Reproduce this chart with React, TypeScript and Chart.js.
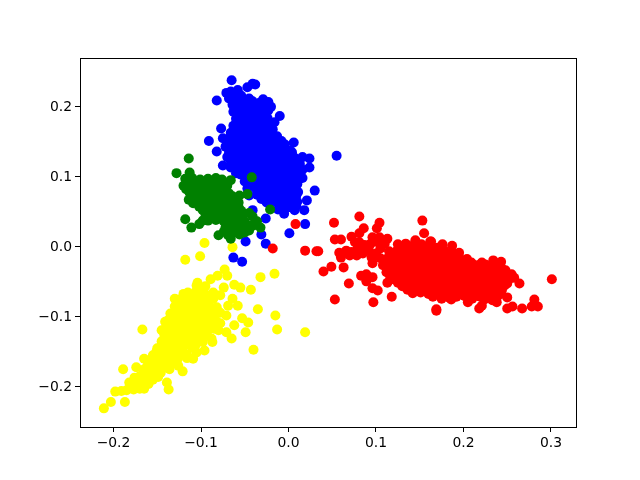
import React, { useEffect, useRef } from "react";
import { Chart, registerables } from "chart.js";

Chart.register(...registerables);

const xTickValues = [-0.2, -0.1, 0, 0.1, 0.2, 0.3];
const yTickValues = [-0.2, -0.1, 0, 0.1, 0.2];

const bluePoints = [
  [-0.065,0.238],[-0.038,0.232],[-0.047,0.228],[-0.041,0.233],[-0.082,0.209],[-0.071,0.220],[-0.058,0.224],[-0.029,0.211],[-0.023,0.207],[-0.023,0.195],[-0.010,0.187],[-0.091,0.151],[0.006,0.149],[-0.082,0.136],[-0.077,0.169],[-0.075,0.155],[-0.018,0.168],[-0.008,0.151],[-0.075,0.116],[0.016,0.128],[0.024,0.126],[0.024,0.113],[0.055,0.130],
  [0.030,0.080],[0.021,0.066],[0.018,0.052],[0.019,0.032],[0.001,0.019],[-0.026,0.004],[-0.031,0.017],[-0.049,0.007],[-0.063,-0.016],[-0.053,-0.022],[-0.026,0.040],[-0.041,0.052],[-0.005,0.047],[0.007,0.052],[0.016,0.098],
  [-0.066,0.222],[-0.058,0.221],[-0.068,0.212],[-0.060,0.213],[-0.052,0.211],[-0.045,0.212],
  [-0.064,0.203],[-0.055,0.204],[-0.046,0.202],[-0.037,0.203],[-0.029,0.202],
  [-0.063,0.193],[-0.054,0.194],[-0.045,0.192],[-0.036,0.193],[-0.027,0.194],
  [-0.060,0.183],[-0.051,0.184],[-0.042,0.182],[-0.033,0.183],[-0.024,0.184],
  [-0.063,0.173],[-0.054,0.174],[-0.045,0.172],[-0.036,0.173],[-0.027,0.172],
  [-0.066,0.163],[-0.057,0.164],[-0.048,0.162],[-0.039,0.163],[-0.030,0.164],[-0.021,0.162],
  [-0.070,0.153],[-0.061,0.154],[-0.052,0.152],[-0.043,0.153],[-0.034,0.154],[-0.025,0.152],[-0.016,0.153],
  [-0.072,0.143],[-0.063,0.144],[-0.054,0.142],[-0.045,0.143],[-0.036,0.144],[-0.027,0.142],[-0.018,0.143],[-0.009,0.144],
  [-0.068,0.133],[-0.059,0.134],[-0.050,0.132],[-0.041,0.133],[-0.032,0.134],[-0.023,0.132],[-0.014,0.133],[-0.005,0.134],
  [-0.066,0.123],[-0.057,0.124],[-0.048,0.122],[-0.039,0.123],[-0.030,0.124],[-0.021,0.122],[-0.012,0.123],[-0.003,0.124],[0.004,0.122],
  [-0.060,0.113],[-0.051,0.114],[-0.042,0.112],[-0.033,0.113],[-0.024,0.114],[-0.015,0.112],[-0.006,0.113],[0.003,0.114],[0.010,0.112],
  [-0.055,0.103],[-0.046,0.104],[-0.037,0.102],[-0.028,0.103],[-0.019,0.104],[-0.010,0.102],[-0.001,0.103],[0.008,0.104],
  [-0.050,0.093],[-0.041,0.094],[-0.032,0.092],[-0.023,0.093],[-0.014,0.094],[-0.005,0.092],[0.004,0.093],[0.011,0.094],
  [-0.047,0.083],[-0.038,0.084],[-0.029,0.082],[-0.020,0.083],[-0.011,0.084],[-0.002,0.082],[0.007,0.083],
  [-0.045,0.073],[-0.036,0.074],[-0.027,0.072],[-0.018,0.073],[-0.009,0.074],[0.000,0.072],[0.009,0.073],
  [-0.025,0.063],[-0.016,0.064],[-0.007,0.062],[0.002,0.063],[0.010,0.064],
  [-0.012,0.053],[-0.004,0.054],[0.003,0.056],
  [-0.062,0.217],[-0.054,0.216],[-0.059,0.208],[-0.050,0.207],[-0.041,0.208],[-0.033,0.206],[-0.059,0.198],[-0.050,0.199],[-0.041,0.197],[-0.032,0.198],[-0.057,0.188],[-0.047,0.187],[-0.038,0.188],[-0.029,0.189],[-0.058,0.178],[-0.049,0.179],[-0.040,0.177],[-0.031,0.178],[-0.023,0.176],[-0.061,0.168],[-0.052,0.169],[-0.043,0.167],[-0.034,0.168],[-0.025,0.167],[-0.066,0.158],[-0.057,0.159],[-0.048,0.157],[-0.039,0.158],[-0.030,0.159],[-0.021,0.157],[-0.013,0.158],[-0.068,0.148],[-0.059,0.149],[-0.050,0.147],[-0.041,0.148],[-0.032,0.149],[-0.023,0.147],[-0.014,0.148],[-0.004,0.146],[-0.068,0.138],[-0.060,0.139],[-0.050,0.137],[-0.041,0.138],[-0.032,0.139],[-0.023,0.137],[-0.014,0.138],[-0.005,0.139],[0.002,0.137],[-0.066,0.128],[-0.053,0.129],[-0.044,0.127],[-0.035,0.128],[-0.026,0.129],[-0.017,0.127],[-0.008,0.128],[0.001,0.129],[0.007,0.127],[-0.057,0.118],[-0.047,0.117],[-0.038,0.118],[-0.029,0.119],[-0.020,0.117],[-0.011,0.118],[-0.002,0.119],[0.007,0.117],[0.013,0.118],[-0.052,0.108],[-0.042,0.107],[-0.033,0.108],[-0.024,0.109],[-0.015,0.107],[-0.006,0.108],[0.003,0.109],[0.012,0.107],[-0.046,0.098],[-0.037,0.097],[-0.028,0.098],[-0.019,0.099],[-0.010,0.097],[-0.001,0.098],[0.008,0.099],[-0.044,0.088],[-0.034,0.087],[-0.025,0.088],[-0.016,0.089],[-0.007,0.087],[0.002,0.088],[0.010,0.089],[-0.033,0.078],[-0.024,0.077],[-0.015,0.078],[-0.006,0.079],[0.003,0.077],[0.011,0.078],[-0.031,0.068],[-0.021,0.067],[-0.012,0.068],[-0.003,0.069],[0.006,0.067],[-0.008,0.058],[0.001,0.057],[0.009,0.058],
  [-0.070,0.128],[-0.066,0.113],[-0.060,0.105],[0.004,0.135],[0.016,0.110],[-0.020,0.200],[-0.016,0.178],
];

const redPoints = [
  [0.081,0.043],[0.052,0.034],[0.153,0.037],[0.104,0.034],[0.053,0.010],[0.060,0.010],[0.032,-0.007],[0.040,-0.036],[0.049,-0.029],[0.063,-0.030],[0.069,-0.053],[0.053,-0.076],[0.097,-0.080],[0.118,-0.072],[0.083,-0.042],[0.089,-0.040],[0.096,-0.044],[0.089,-0.050],[0.096,-0.060],[0.102,-0.063],[0.113,-0.052],[0.169,-0.092],[0.155,0.019],[0.162,0.007],[0.145,0.009],[0.113,0.011],[0.072,0.014],[0.086,0.026],[0.101,0.026],[0.081,0.019],[0.096,0.013],[0.104,0.013],[0.058,-0.009],[0.060,-0.016],[0.070,-0.013],[0.079,-0.003],[0.081,0.006],[0.096,-0.024],[0.095,-0.016],[0.078,-0.013],[0.102,0.006],[0.087,0.002],[0.066,-0.006],[0.092,-0.006],[0.105,-0.003],
  [0.301,-0.047],[0.281,-0.076],[0.278,-0.086],[0.285,-0.086],[0.267,-0.089],[0.256,-0.086],[0.250,-0.089],[0.218,-0.089],[0.221,-0.085],[0.169,-0.090],[0.234,-0.020],[0.243,-0.022],[0.264,-0.053],[0.187,0.001],[0.176,0.003],[0.163,0.007],[0.250,-0.073],[0.238,-0.080],[0.205,-0.080],[0.198,-0.020],[0.221,-0.023],[0.209,-0.024],[0.008,0.032],[-0.018,-0.003],[0.019,-0.006],[0.034,-0.007],
  [0.125,0.003],[0.134,0.004],[0.143,0.002],[0.152,0.003],[0.160,0.001],[0.170,-0.002],
  [0.115,-0.007],[0.124,-0.006],[0.133,-0.008],[0.142,-0.007],[0.151,-0.006],[0.160,-0.008],[0.169,-0.007],[0.178,-0.006],[0.187,-0.008],[0.195,-0.009],
  [0.105,-0.017],[0.114,-0.016],[0.123,-0.018],[0.132,-0.017],[0.141,-0.016],[0.150,-0.018],[0.159,-0.017],[0.168,-0.016],[0.177,-0.018],[0.186,-0.017],[0.195,-0.016],[0.204,-0.018],
  [0.108,-0.027],[0.117,-0.026],[0.126,-0.028],[0.135,-0.027],[0.144,-0.026],[0.153,-0.028],[0.162,-0.027],[0.171,-0.026],[0.180,-0.028],[0.189,-0.027],[0.198,-0.026],[0.207,-0.028],[0.216,-0.027],[0.225,-0.026],[0.234,-0.028],[0.243,-0.030],
  [0.112,-0.037],[0.121,-0.036],[0.130,-0.038],[0.139,-0.037],[0.148,-0.036],[0.157,-0.038],[0.166,-0.037],[0.175,-0.036],[0.184,-0.038],[0.193,-0.037],[0.202,-0.036],[0.211,-0.038],[0.220,-0.037],[0.229,-0.036],[0.238,-0.038],[0.247,-0.037],[0.255,-0.040],
  [0.118,-0.047],[0.127,-0.046],[0.136,-0.048],[0.145,-0.047],[0.154,-0.046],[0.163,-0.048],[0.172,-0.047],[0.181,-0.046],[0.190,-0.048],[0.199,-0.047],[0.208,-0.046],[0.217,-0.048],[0.226,-0.047],[0.235,-0.046],[0.244,-0.048],[0.252,-0.047],
  [0.130,-0.057],[0.139,-0.056],[0.148,-0.058],[0.157,-0.057],[0.166,-0.056],[0.175,-0.058],[0.184,-0.057],[0.193,-0.056],[0.202,-0.058],[0.211,-0.057],[0.220,-0.056],[0.229,-0.058],[0.238,-0.057],[0.247,-0.056],
  [0.142,-0.067],[0.151,-0.066],[0.160,-0.068],[0.169,-0.067],[0.178,-0.066],[0.187,-0.068],[0.196,-0.067],[0.205,-0.066],[0.214,-0.068],[0.223,-0.067],[0.232,-0.066],[0.243,-0.068],
  [0.175,-0.075],[0.186,-0.076],[0.210,-0.075],[0.224,-0.076],[0.233,-0.077],
  [0.129,-0.002],[0.138,-0.003],[0.147,-0.001],[0.156,-0.003],[0.165,-0.002],[0.120,-0.012],[0.129,-0.013],[0.138,-0.011],[0.147,-0.012],[0.156,-0.013],[0.165,-0.011],[0.174,-0.012],[0.183,-0.013],[0.192,-0.012],[0.110,-0.022],[0.119,-0.021],[0.128,-0.023],[0.137,-0.022],[0.146,-0.021],[0.155,-0.023],[0.164,-0.022],[0.173,-0.021],[0.182,-0.023],[0.191,-0.022],[0.200,-0.021],[0.209,-0.023],[0.218,-0.030],[0.113,-0.032],[0.122,-0.031],[0.131,-0.033],[0.140,-0.032],[0.149,-0.031],[0.158,-0.033],[0.167,-0.032],[0.176,-0.031],[0.185,-0.033],[0.194,-0.032],[0.203,-0.031],[0.212,-0.033],[0.221,-0.032],[0.230,-0.031],[0.239,-0.033],[0.248,-0.034],[0.116,-0.042],[0.125,-0.041],[0.134,-0.043],[0.143,-0.042],[0.152,-0.041],[0.161,-0.043],[0.170,-0.042],[0.179,-0.041],[0.188,-0.043],[0.197,-0.042],[0.206,-0.041],[0.215,-0.043],[0.224,-0.042],[0.233,-0.041],[0.242,-0.043],[0.251,-0.042],[0.258,-0.045],[0.125,-0.052],[0.134,-0.051],[0.143,-0.053],[0.152,-0.052],[0.161,-0.051],[0.170,-0.053],[0.179,-0.052],[0.188,-0.051],[0.197,-0.053],[0.206,-0.052],[0.215,-0.051],[0.224,-0.053],[0.233,-0.052],[0.242,-0.051],[0.250,-0.053],[0.136,-0.062],[0.145,-0.061],[0.154,-0.063],[0.163,-0.062],[0.172,-0.061],[0.181,-0.063],[0.190,-0.062],[0.199,-0.061],[0.208,-0.063],[0.217,-0.062],[0.226,-0.061],[0.235,-0.063],[0.244,-0.062],[0.165,-0.072],[0.174,-0.071],[0.183,-0.073],[0.192,-0.072],[0.201,-0.071],[0.210,-0.070],[0.219,-0.072],[0.228,-0.071],[0.238,-0.073],
  [0.072,-0.008],[0.085,-0.010],[0.090,-0.002],[0.100,-0.010],[0.076,0.006],[0.094,0.004],[0.110,0.004],
];

const yellowPoints = [
  [-0.211,-0.232],[-0.203,-0.223],[-0.198,-0.208],[-0.187,-0.223],[-0.191,-0.207],[-0.167,-0.119],[-0.189,-0.176],[-0.137,-0.205],[-0.165,-0.204],[-0.170,-0.204],[-0.121,-0.179],[-0.126,-0.171],[-0.141,-0.173],[-0.139,-0.195],[-0.182,-0.195],[-0.176,-0.188],[-0.174,-0.173],[-0.165,-0.161],[-0.109,-0.161],[-0.096,-0.149],[-0.087,-0.137],[-0.105,-0.152],[-0.155,-0.178],
  [-0.118,-0.019],[-0.101,-0.014],[-0.064,-0.001],[-0.032,-0.044],[-0.016,-0.039],[-0.043,-0.062],[-0.055,-0.059],[-0.062,-0.055],[-0.074,-0.059],[-0.073,-0.033],[-0.081,-0.042],[-0.070,-0.042],[-0.089,-0.047],[-0.104,-0.052],[-0.064,-0.075],[-0.058,-0.085],[-0.069,-0.085],[-0.035,-0.090],[-0.015,-0.099],[-0.013,-0.119],[0.019,-0.123],[-0.053,-0.103],[-0.046,-0.109],[-0.049,-0.123],[-0.062,-0.113],[-0.071,-0.123],[-0.065,-0.132],[-0.040,-0.148],[-0.088,-0.132],[-0.071,-0.099],[-0.085,-0.092],[-0.085,-0.118],[-0.096,0.005],
  [-0.105,-0.056],[-0.095,-0.057],
  [-0.115,-0.066],[-0.106,-0.065],[-0.096,-0.067],[-0.086,-0.066],
  [-0.125,-0.076],[-0.116,-0.075],[-0.106,-0.077],[-0.096,-0.076],[-0.086,-0.075],
  [-0.130,-0.086],[-0.121,-0.085],[-0.111,-0.087],[-0.101,-0.086],[-0.091,-0.085],[-0.082,-0.087],
  [-0.135,-0.096],[-0.126,-0.095],[-0.116,-0.097],[-0.106,-0.096],[-0.096,-0.095],[-0.086,-0.097],
  [-0.138,-0.106],[-0.129,-0.105],[-0.119,-0.107],[-0.109,-0.106],[-0.099,-0.105],[-0.089,-0.107],[-0.083,-0.106],
  [-0.140,-0.116],[-0.131,-0.115],[-0.121,-0.117],[-0.111,-0.116],[-0.101,-0.115],[-0.091,-0.117],
  [-0.142,-0.126],[-0.133,-0.125],[-0.123,-0.127],[-0.113,-0.126],[-0.103,-0.125],[-0.093,-0.127],
  [-0.145,-0.136],[-0.136,-0.135],[-0.126,-0.137],[-0.116,-0.136],[-0.106,-0.135],[-0.098,-0.137],
  [-0.150,-0.146],[-0.141,-0.145],[-0.131,-0.147],[-0.121,-0.146],[-0.110,-0.145],
  [-0.155,-0.156],[-0.146,-0.155],[-0.136,-0.157],[-0.126,-0.156],[-0.116,-0.155],
  [-0.160,-0.166],[-0.151,-0.165],[-0.141,-0.167],[-0.131,-0.166],
  [-0.165,-0.176],[-0.156,-0.175],[-0.146,-0.177],[-0.136,-0.176],
  [-0.170,-0.186],[-0.160,-0.185],[-0.149,-0.187],
  [-0.178,-0.196],[-0.169,-0.195],[-0.160,-0.197],
  [-0.185,-0.206],[-0.177,-0.205],
  [-0.100,-0.061],[-0.110,-0.070],[-0.101,-0.071],[-0.091,-0.072],[-0.120,-0.080],[-0.111,-0.081],[-0.101,-0.081],[-0.091,-0.080],[-0.126,-0.091],[-0.116,-0.090],[-0.106,-0.091],[-0.096,-0.090],[-0.086,-0.091],[-0.131,-0.101],[-0.121,-0.100],[-0.111,-0.101],[-0.101,-0.100],[-0.091,-0.101],[-0.134,-0.111],[-0.124,-0.110],[-0.114,-0.111],[-0.104,-0.110],[-0.094,-0.111],[-0.136,-0.121],[-0.126,-0.120],[-0.116,-0.121],[-0.106,-0.120],[-0.096,-0.121],[-0.139,-0.131],[-0.129,-0.130],[-0.119,-0.131],[-0.109,-0.130],[-0.100,-0.131],[-0.145,-0.141],[-0.136,-0.140],[-0.126,-0.141],[-0.116,-0.140],[-0.106,-0.141],[-0.151,-0.151],[-0.141,-0.150],[-0.131,-0.151],[-0.121,-0.150],[-0.156,-0.161],[-0.146,-0.160],[-0.136,-0.161],[-0.126,-0.160],[-0.116,-0.160],[-0.161,-0.171],[-0.151,-0.170],[-0.136,-0.171],[-0.166,-0.181],[-0.156,-0.180],[-0.146,-0.181],[-0.174,-0.191],[-0.164,-0.190],[-0.155,-0.191],[-0.181,-0.201],[-0.173,-0.200],
  [-0.078,-0.070],[-0.078,-0.095],[-0.078,-0.110],[-0.145,-0.120],[-0.141,-0.108],[-0.130,-0.075],[-0.120,-0.068],[-0.080,-0.120],
];

const greenPoints = [
  [-0.114,0.126],[-0.128,0.105],[-0.113,0.106],[-0.042,0.099],[-0.066,0.095],[-0.083,0.098],[-0.047,0.075],[-0.021,0.053],[-0.041,0.043],[-0.118,0.039],[-0.111,0.027],[-0.102,0.032],[-0.080,0.016],[-0.066,0.011],[-0.032,0.027],[-0.045,0.023],
  [-0.118,0.097],[-0.110,0.098],[-0.101,0.096],[-0.092,0.097],[-0.076,0.096],
  [-0.120,0.087],[-0.112,0.088],[-0.103,0.086],[-0.094,0.087],[-0.085,0.088],[-0.076,0.086],[-0.070,0.087],
  [-0.113,0.077],[-0.104,0.078],[-0.095,0.076],[-0.086,0.077],[-0.077,0.078],[-0.068,0.076],
  [-0.114,0.067],[-0.106,0.068],[-0.097,0.066],[-0.088,0.067],[-0.079,0.068],[-0.070,0.066],[-0.062,0.067],
  [-0.102,0.057],[-0.093,0.058],[-0.084,0.056],[-0.075,0.057],[-0.066,0.058],[-0.057,0.056],
  [-0.095,0.047],[-0.086,0.048],[-0.077,0.046],[-0.068,0.047],[-0.059,0.048],[-0.052,0.046],
  [-0.092,0.037],[-0.083,0.038],[-0.074,0.036],[-0.065,0.037],[-0.056,0.038],[-0.050,0.036],
  [-0.072,0.027],[-0.063,0.028],[-0.054,0.026],[-0.043,0.030],
  [-0.065,0.018],[-0.056,0.017],[-0.074,0.021],
  [-0.116,0.092],[-0.107,0.092],[-0.098,0.091],[-0.089,0.092],[-0.080,0.091],[-0.117,0.082],[-0.108,0.082],[-0.099,0.081],[-0.090,0.082],[-0.081,0.083],[-0.072,0.081],[-0.108,0.072],[-0.100,0.072],[-0.091,0.071],[-0.082,0.072],[-0.073,0.071],[-0.064,0.072],[-0.056,0.073],[-0.109,0.062],[-0.100,0.062],[-0.092,0.061],[-0.083,0.062],[-0.074,0.063],[-0.065,0.061],[-0.057,0.063],[-0.098,0.052],[-0.089,0.052],[-0.080,0.051],[-0.071,0.052],[-0.062,0.053],[-0.054,0.051],[-0.090,0.042],[-0.081,0.042],[-0.072,0.041],[-0.063,0.042],[-0.054,0.043],[-0.068,0.032],[-0.059,0.032],[-0.050,0.031],[-0.060,0.022],[-0.051,0.022],[-0.069,0.016],
  [-0.040,0.030],[-0.050,0.020],[-0.036,0.036],[-0.045,0.048],[-0.098,0.037],
];

const framePlugin = {
  id: "frame",
  afterDraw(chart: any) {
    const { ctx, chartArea: a } = chart;
    ctx.save();
    ctx.strokeStyle = "#000";
    ctx.lineWidth = 1;
    ctx.strokeRect(a.left + 0.5, a.top + 0.5, a.right - a.left, a.bottom - a.top);
    ctx.restore();
  },
};

const dataset = (points: number[][], color: string) => ({
  data: points.map(([x, y]) => ({ x, y })),
  backgroundColor: color,
  borderColor: color,
  borderWidth: 0,
  pointRadius: 5,
  pointHoverRadius: 5,
});

const tickLabel = (v: number | string) => {
  const n = Number(v);
  return (n < 0 ? "\u2212" : "") + Math.abs(n).toFixed(1);
};

const axisCommon = {
  grid: { drawOnChartArea: false, drawTicks: true, tickLength: 5, color: "#000" },
  border: { display: true, color: "#000" },
};

const tickFont = { family: "'DejaVu Sans'", size: 13.9 };

export default function App() {
  const ref = useRef<HTMLCanvasElement>(null);
  useEffect(() => {
    const chart = new Chart(ref.current!, {
      type: "scatter",
      data: {
        datasets: [
          dataset(greenPoints, "#008000"),
          dataset(yellowPoints, "#ffff00"),
          dataset(redPoints, "#ff0000"),
          dataset(bluePoints, "#0000ff"),
        ],
      },
      plugins: [framePlugin],
      options: {
        responsive: false,
        animation: false,
        layout: { padding: { top: 58, right: 64, left: 0, bottom: 0 } },
        plugins: { legend: { display: false }, tooltip: { enabled: false } },
        scales: {
          x: {
            type: "linear",
            min: -0.2383,
            max: 0.3286,
            ...axisCommon,
            ticks: { color: "#000", font: tickFont, maxRotation: 0, padding: 3, callback: tickLabel },
            afterBuildTicks: (s: any) => { s.ticks = xTickValues.map((value) => ({ value })); },
            afterFit: (s: any) => { s.height = 53; },
          },
          y: {
            type: "linear",
            min: -0.2587,
            max: 0.27,
            ...axisCommon,
            ticks: { color: "#000", font: tickFont, padding: 3, labelOffset: 1, callback: tickLabel },
            afterBuildTicks: (s: any) => { s.ticks = yTickValues.map((value) => ({ value })); },
            afterFit: (s: any) => { s.width = 80; },
          },
        },
      },
    } as any);
    return () => chart.destroy();
  }, []);
  return (
    <div style={{ position: "absolute", left: 0, top: 0, width: 640, height: 480, background: "#fff" }}>
      <canvas ref={ref} width={640} height={480} style={{ display: "block" }} />
    </div>
  );
}
